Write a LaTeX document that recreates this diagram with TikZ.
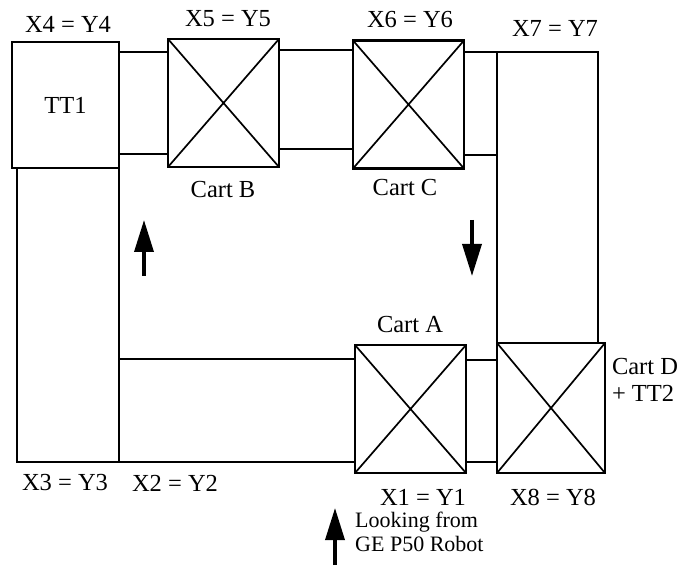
\documentclass[tikz,border=0pt]{standalone}
\usepackage{fontspec}
\setmainfont{Liberation Serif}
\usetikzlibrary{arrows.meta,positioning}
\tikzset{
  rail/.style={draw, line width=1.8pt},
  cart/.style={draw, line width=2.2pt, inner sep=0pt, minimum width=111pt, minimum height=128pt,
    path picture={\draw[line width=1.7pt] (path picture bounding box.north west) -- (path picture bounding box.south east)
      (path picture bounding box.south west) -- (path picture bounding box.north east);}},
  table/.style={draw, line width=2.2pt, fill=white, inner sep=0pt, minimum width=107pt, minimum height=126pt},
  lbl/.style={font=\fontsize{24.5}{27}\selectfont, inner sep=0pt},
  note/.style={font=\fontsize{22}{24}\selectfont, inner sep=0pt, align=left},
  dir/.style={-{Triangle[length=32pt,width=19pt]}, line width=3.5pt}
}
\begin{document}
\begin{tikzpicture}[x=1pt,y=-1pt]
\useasboundingbox (0,0) rectangle (686,569);
% rails
\draw[rail] (17,168) rectangle (119,462);
\draw[rail] (119,359) rectangle (355,462);
\draw[rail] (466,360) rectangle (497,462);
\draw[rail] (497,52) rectangle (598,343);
\draw[rail] (119,52) -- (168,52) (119,154) -- (168,154);
\draw[rail] (279,50) -- (353,50) (279,149) -- (353,149);
\draw[rail] (464,52) -- (497,52) (464,155) -- (497,155);
% turntable and carts
\node[table] (tt1) at (65.5,105) {};
\node[lbl] at (tt1) {TT1};
\node[cart, fill=white] (cartB) at (223.5,103) {};
\node[cart, fill=white] (cartC) at (408.5,104.5) {};
\node[cart, fill=white] (cartA) at (410.5,409) {};
\node[cart, fill=white, minimum width=108pt, minimum height=130pt] (cartD) at (551,408) {};
% labels
\node[lbl] (x4) at (68,24) {X4 = Y4};
\node[lbl] (x5) at (228,19) {X5 = Y5};
\node[lbl] (x6) at (410,20) {X6 = Y6};
\node[lbl] (x7) at (555,28) {X7 = Y7};
\node[lbl] (nB) at (223,190) {Cart B};
\node[lbl] (nC) at (405,188) {Cart C};
\node[lbl] (nA) at (410,325) {Cart A};
\node[lbl, align=left] (nD) at (645,380) {Cart D\\+ TT2};
\node[lbl] (x3) at (65,483) {X3 = Y3};
\node[lbl] (x2) at (175,483) {X2 = Y2};
\node[lbl] (x1) at (423,497) {X1 = Y1};
\node[lbl] (x8) at (553,497) {X8 = Y8};
\node[note, anchor=west] (view) at (355,532) {Looking from\\GE P50 Robot};
% direction arrows
\coordinate (upS) at (144,276); \coordinate (upE) at (144,220);
\coordinate (dnS) at (472,220); \coordinate (dnE) at (472,276);
\coordinate (vwS) at (335,565); \coordinate (vwE) at (335,508);
\draw[dir] (upS) -- (upE);
\draw[dir] (dnS) -- (dnE);
\draw[dir] (vwS) -- (vwE);
\end{tikzpicture}
\end{document}
